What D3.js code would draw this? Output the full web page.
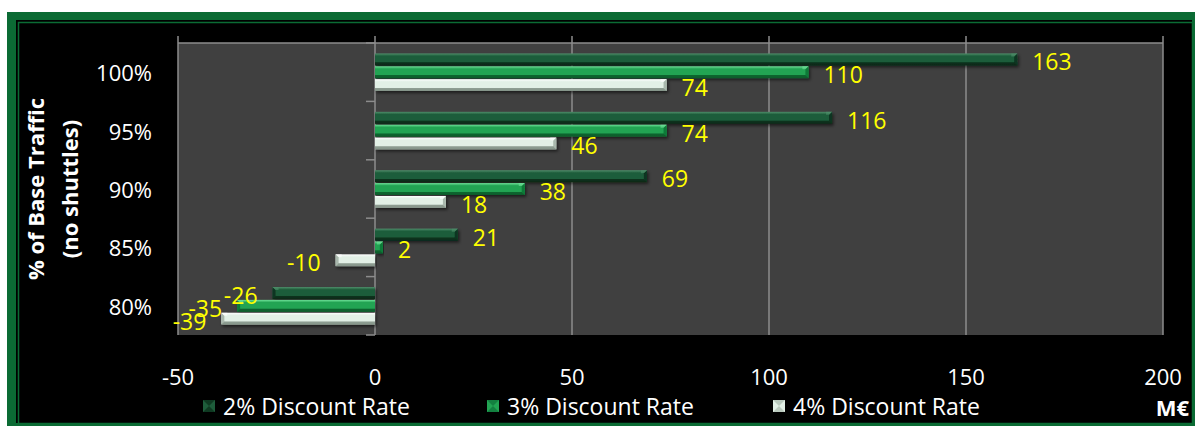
<!DOCTYPE html>
<html>
<head>
<meta charset="utf-8">
<script src="https://cdn.jsdelivr.net/npm/d3@7"></script>
<style>
  html, body { margin: 0; padding: 0; background: #ffffff; }
  svg { display: block; font-family: "Open Sans", "DejaVu Sans", sans-serif; }
</style>
</head>
<body>
<svg id="chart" width="1197" height="428"></svg>
<script>
// Net value (M€) by share of base traffic, for three discount rates
const categories = ["100%", "95%", "90%", "85%", "80%"];
const seriesNames = ["2% Discount Rate", "3% Discount Rate", "4% Discount Rate"];
const rate2 = [163, 116, 69, 21, -26];
const rate3 = [110, 74, 38, 2, -35];
const rate4 = [74, 46, 18, -10, -39];
const xTicks = [-50, 0, 50, 100, 150, 200];
const yTitleLines = ["% of Base Traffic", "(no shuttles)"];
const unitLabel = "M€";

const seriesValues = [rate2, rate3, rate4];

// bevel palettes: face, top light edge, bottom dark edge, end cap
const palettes = [
  { top: "#4f8f6b", face: "#1e5d3b", low: "#0f3a22", edge: "#072414", cap: "#0d3520" },
  { top: "#6fe39a", face: "#22a453", low: "#138040", edge: "#0a4f22", cap: "#107a38" },
  { top: "#ffffff", face: "#e2f0e6", low: "#b9c9bd", edge: "#6f7f73", cap: "#a9b8ad" }
];

const svg = d3.select("#chart");
const defs = svg.append("defs");

// frame
svg.append("rect").attr("x", 7).attr("y", 12).attr("width", 1188).attr("height", 414).attr("fill", "#0b6b34");
svg.append("rect").attr("x", 16).attr("y", 20).attr("width", 1176).attr("height", 403).attr("fill", "#000");
svg.append("rect").attr("x", 18.5).attr("y", 22.5).attr("width", 1174).attr("height", 401)
  .attr("fill", "none").attr("stroke", "#0b6b34").attr("stroke-width", 1.5);
svg.append("rect").attr("x", 20).attr("y", 24).attr("width", 1171).attr("height", 398).attr("fill", "#000");

const plot = { left: 178, right: 1163, top: 43, bottom: 335 };

const x = d3.scaleLinear().domain([-50, 200]).range([plot.left, plot.right]);
const y = d3.scaleBand().domain(categories).range([plot.top, plot.bottom])
  .paddingInner(0.34).paddingOuter(0.17);
const ySub = d3.scaleBand().domain(seriesNames).range([0, y.bandwidth()]);
const yStep = y.step();

// gradients
palettes.forEach((p, i) => {
  const g = defs.append("linearGradient").attr("id", "grad" + i)
    .attr("x1", 0).attr("y1", 0).attr("x2", 0).attr("y2", 1);
  g.append("stop").attr("offset", "0%").attr("stop-color", p.top);
  g.append("stop").attr("offset", "22%").attr("stop-color", p.face);
  g.append("stop").attr("offset", "70%").attr("stop-color", p.face);
  g.append("stop").attr("offset", "100%").attr("stop-color", p.low);
});
const shadow = defs.append("filter").attr("id", "shadow")
  .attr("x", "-5%").attr("y", "-40%").attr("width", "110%").attr("height", "180%");
shadow.append("feDropShadow").attr("dx", 1.5).attr("dy", 2).attr("stdDeviation", 1.5)
  .attr("flood-color", "#000").attr("flood-opacity", 0.55);

// plot background
svg.append("rect").attr("x", plot.left).attr("y", plot.top)
  .attr("width", plot.right - plot.left).attr("height", plot.bottom - plot.top)
  .attr("fill", "#404040");

// vertical gridlines + upward ticks above the plot
svg.append("g").selectAll("line").data(xTicks).join("line")
  .attr("x1", d => x(d)).attr("x2", d => x(d))
  .attr("y1", plot.top - 7).attr("y2", plot.bottom)
  .attr("stroke", "#8c8c8c").attr("stroke-width", 1.5);
svg.append("line").attr("x1", plot.left).attr("x2", plot.right)
  .attr("y1", plot.top).attr("y2", plot.top)
  .attr("stroke", "#8c8c8c").attr("stroke-width", 1.5);

// category tick marks on the zero axis
const bounds = d3.range(categories.length + 1).map(i => plot.top + i * yStep);
svg.append("g").selectAll("line").data(bounds).join("line")
  .attr("x1", x(0) - 9).attr("x2", x(0))
  .attr("y1", d => d).attr("y2", d => d)
  .attr("stroke", "#8c8c8c").attr("stroke-width", 1.5);

// bars
const b = 3;
const barsG = svg.append("g");
seriesNames.forEach((name, si) => {
  const p = palettes[si];
  categories.forEach((cat, ci) => {
    const v = seriesValues[si][ci];
    const y0 = y(cat) + ySub(name) + 0.5;
    const h = ySub.bandwidth() - 1;
    const y1 = y0 + h;
    const xa = Math.min(x(0), x(v)), xb = Math.max(x(0), x(v));
    const w = xb - xa;
    const bb = Math.min(b, w / 2);
    const g = barsG.append("g").attr("filter", "url(#shadow)");
    g.append("rect").attr("x", xa).attr("y", y0).attr("width", w).attr("height", h)
      .attr("fill", `url(#grad${si})`);
    // end cap bevel, pointing away from zero
    const xe = v >= 0 ? xb : xa;
    const dir = v >= 0 ? -1 : 1;
    const xo = xe + dir * w;
    g.append("path")
      .attr("d", `M${xe},${y0}L${xe + dir * bb},${y0 + bb}L${xe + dir * bb},${y1 - bb}L${xe},${y1}Z`)
      .attr("fill", p.cap);
    g.append("path")
      .attr("d", `M${xe},${y0}L${xe + dir * bb},${y0 + bb}L${xe + dir * bb * 2},${y0 + bb}L${xe + dir * bb * 2},${y0}Z`)
      .attr("fill", p.top).attr("opacity", 0.6);
    // darker bottom edge
    g.append("path")
      .attr("d", `M${xe},${y1}L${xe + dir * bb},${y1 - bb}L${xo},${y1 - bb}L${xo},${y1}Z`)
      .attr("fill", p.edge).attr("opacity", 0.7);
  });
});

// value labels
const labelsG = svg.append("g").attr("fill", "#ffff00").attr("font-size", 23);
seriesNames.forEach((name, si) => {
  categories.forEach((cat, ci) => {
    const v = seriesValues[si][ci];
    const cy = y(cat) + ySub(name) + ySub.bandwidth() / 2 + 2;
    labelsG.append("text")
      .attr("x", v >= 0 ? x(v) + 15 : x(v) - 15)
      .attr("y", cy)
      .attr("dominant-baseline", "central")
      .attr("text-anchor", v >= 0 ? "start" : "end")
      .text(v);
  });
});

// x tick labels
svg.append("g").selectAll("text").data(xTicks).join("text")
  .attr("x", d => x(d)).attr("y", 376)
  .attr("dominant-baseline", "central").attr("text-anchor", "middle")
  .attr("fill", "#fff").attr("font-size", 22)
  .text(d => d);

// y tick labels
svg.append("g").selectAll("text").data(categories).join("text")
  .attr("x", 152).attr("y", d => y(d) + y.bandwidth() / 2)
  .attr("dominant-baseline", "central").attr("text-anchor", "end")
  .attr("fill", "#fff").attr("font-size", 22)
  .text(d => d);

// y axis title
const yt = svg.append("text").attr("transform", "translate(0,189) rotate(-90)")
  .attr("text-anchor", "middle").attr("fill", "#fff")
  .attr("font-size", 22).attr("font-weight", "bold");
yTitleLines.forEach((t, i) => {
  yt.append("tspan").attr("x", 0).attr("y", 35 + i * 34)
    .attr("dominant-baseline", "central").text(t);
});

// legend
const legendX = [203, 487, 773];
const lg = svg.append("g");
seriesNames.forEach((name, i) => {
  const p = palettes[i];
  const gx = legendX[i], gy = 400;
  lg.append("rect").attr("x", gx).attr("y", gy).attr("width", 12).attr("height", 12).attr("fill", p.face);
  lg.append("path").attr("d", `M${gx},${gy}L${gx + 12},${gy}L${gx + 6},${gy + 6}Z`).attr("fill", p.low);
  lg.append("path").attr("d", `M${gx},${gy + 12}L${gx + 12},${gy + 12}L${gx + 6},${gy + 6}Z`).attr("fill", p.low);
  lg.append("text").attr("x", gx + 20).attr("y", gy + 6)
    .attr("dominant-baseline", "central").attr("fill", "#fff").attr("font-size", 23)
    .text(name);
});

// unit label
svg.append("text").attr("x", 1189).attr("y", 407)
  .attr("dominant-baseline", "central").attr("text-anchor", "end")
  .attr("fill", "#fff").attr("font-size", 22).attr("font-weight", "bold")
  .text(unitLabel);
</script>
</body>
</html>
